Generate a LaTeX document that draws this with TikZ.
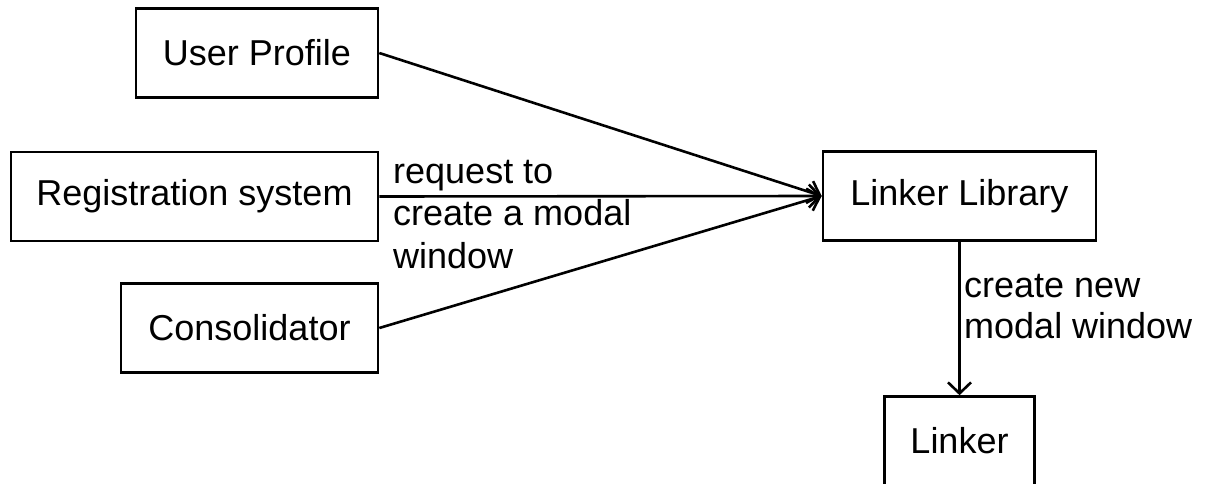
\documentclass[tikz,border=0pt]{standalone}
\usepackage{fontspec}
\setmainfont{Liberation Sans}
\usetikzlibrary{arrows.meta}
\begin{document}
\begin{tikzpicture}[x=1pt,y=-1pt,
  box/.style={draw, line width=2.6pt, inner sep=0pt, minimum height=89pt,
    font=\fontsize{36}{42}\selectfont},
  flow/.style={line width=2.6pt, -{Straight Barb[length=11pt,width=23pt,line width=2.6pt]}},
  lbl/.style={anchor=base west, align=left, inner sep=0pt}]
  \useasboundingbox (0,0) rectangle (1209,484);
  % sources on the left
  \node[box, minimum width=242pt] (up)  at (257,53)    {User Profile};
  \node[box, minimum width=367pt] (reg) at (194.5,196.5) {Registration system};
  \node[box, minimum width=257pt] (con) at (249.5,328) {Consolidator};
  % library and the window it creates
  \node[box, minimum width=273pt] (lib) at (959.5,196) {Linker Library};
  \node[box, minimum width=150pt] (lnk) at (959.5,441) {Linker};
  % requests converging on the library
  \draw[flow] (up.east)  -- (lib.west);
  \draw[flow] (reg.east) -- (lib.west);
  \draw[flow] (con.east) -- (lib.west);
  \draw[flow] (lib.south) -- (lnk.north);
  % labels (anchored at the baseline of their last line)
  \node[lbl, font=\fontsize{36}{42.5}\selectfont] (req) at (393,268)
    {request to\\create a modal\\window};
  \node[lbl, font=\fontsize{36}{41}\selectfont] (cre) at (964,338)
    {create new\\modal window};
\end{tikzpicture}
\end{document}
